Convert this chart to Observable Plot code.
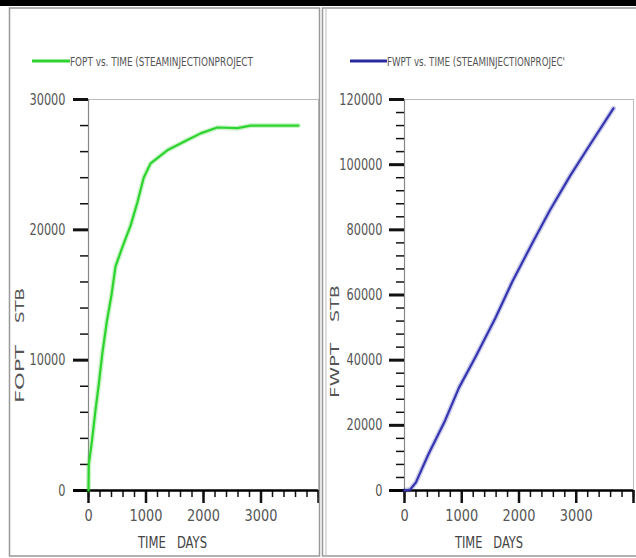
<!DOCTYPE html>
<html><head><meta charset="utf-8">
<script src="https://cdn.jsdelivr.net/npm/d3@7"></script>
<script src="https://cdn.jsdelivr.net/npm/@observablehq/plot@0.6"></script>
<style>
html,body{margin:0;padding:0;background:#fff;}
#root{position:relative;width:636px;height:558px;overflow:hidden;background:#fff;}
#root svg{position:absolute;}
</style></head>
<body><div id="root"></div>
<script>
// ---- data ----
const foptTime = [0, 5, 60, 120, 180, 240, 320, 400, 470, 600, 730, 850, 960, 1080, 1370, 1720, 1950, 2240, 2590, 2820, 3650];
const foptValue = [0, 2000, 3800, 6100, 8200, 10500, 13000, 15000, 17200, 18800, 20300, 22100, 24000, 25100, 26100, 26900, 27400, 27850, 27800, 28000, 28000];
const fwptTime = [0, 100, 200, 300, 420, 710, 950, 1240, 1590, 1880, 2250, 2540, 2890, 3180, 3650];
const fwptValue = [0, 300, 2500, 6500, 11200, 21500, 31500, 41000, 53000, 64000, 76500, 86000, 96500, 104500, 117300];
const xMajorTicks = [0, 1000, 2000, 3000, 4000];
const xTickLabels = [0, 1000, 2000, 3000];
const xMinorTicks = d3.range(0, 4001, 200);
const foptMajorTicks = [0, 10000, 20000, 30000];
const foptMinorTicks = d3.range(0, 30001, 2000);
const fwptMajorTicks = [0, 20000, 40000, 60000, 80000, 100000, 120000];
const fwptMinorTicks = d3.range(0, 120001, 4000);
const legendTexts = ["FOPT vs. TIME (STEAMINJECTIONPROJECT", "FWPT vs. TIME (STEAMINJECTIONPROJEC'"];
const yTitles = [["FOPT", "STB"], ["FWPT", "STB"]];
const xTitle = "TIME   DAYS";

const FONT = "'Liberation Sans Narrow','DejaVu Sans Condensed','Liberation Sans',sans-serif";
const root = document.getElementById("root");

function narrowLabels(svg) {
  svg.querySelectorAll("text").forEach(t => {
    const s = t.textContent;
    if (!s || !/^\d+$/.test(s)) return;
    const isY = !!t.closest('[text-anchor="end"]');
    const per = isY ? 7.2 : 8.2;
    t.setAttribute("textLength", s.length * per);
    t.setAttribute("lengthAdjust", "spacingAndGlyphs");
  });
}

function panel({time, value, yDomain, yMajor, yMinor, color, left, width, marginLeft, marginRight, labelPad}) {
  const data = time.map((t, i) => ({t, v: value[i]}));
  const svg = Plot.plot({
    width, height: 558,
    marginLeft, marginRight, marginTop: 99, marginBottom: 68,
    x: {domain: [0, 4000], label: null},
    y: {domain: yDomain, label: null},
    style: {fontFamily: FONT, fontSize: "16px", background: "transparent", overflow: "visible", color: "#222"},
    marks: [
      Plot.frame({stroke: "#bbb", strokeWidth: 1}),
      Plot.ruleX([0], {stroke: "#888", strokeWidth: 1.2}),
      Plot.axisY({ticks: yMinor, tickSize: 8, strokeWidth: 1.5, stroke: "#111", tickFormat: () => "", label: null}),
      Plot.axisY({ticks: yMajor, tickSize: 15, strokeWidth: 3, stroke: "#111", tickFormat: () => "", label: null}),
      Plot.axisY({ticks: yMajor, tickSize: 0, tickPadding: labelPad, fill: "#555", tickFormat: d => String(d), label: null}),
      Plot.axisX({ticks: xMinorTicks, tickSize: 7, strokeWidth: 1.5, stroke: "#111", tickFormat: () => "", label: null}),
      Plot.axisX({ticks: xMajorTicks, tickSize: 13, strokeWidth: 2.5, stroke: "#111", tickFormat: () => "", label: null}),
      Plot.axisX({ticks: xTickLabels, tickSize: 0, tickPadding: 19, fill: "#555", tickFormat: d => String(d), label: null}),
      Plot.ruleY([0], {x1: -260, x2: 4000, stroke: "#000", strokeWidth: 2.5}),
      Plot.line(data, {x: "t", y: "v", stroke: color, strokeWidth: 5, strokeOpacity: 0.25}),
      Plot.line(data, {x: "t", y: "v", stroke: color, strokeWidth: 2.2})
    ]
  });
  narrowLabels(svg);
  svg.style.left = left + "px";
  svg.style.top = "0px";
  root.appendChild(svg);
}

panel({time: foptTime, value: foptValue, yDomain: [0, 30000], yMajor: foptMajorTicks, yMinor: foptMinorTicks,
  color: "#2ed42e", left: 0, width: 320, marginLeft: 88, marginRight: 2, labelPad: 23});
panel({time: fwptTime, value: fwptValue, yDomain: [0, 120000], yMajor: fwptMajorTicks, yMinor: fwptMinorTicks,
  color: "#3535b0", left: 320, width: 316, marginLeft: 84, marginRight: 3, labelPad: 22});

// ---- decorations overlay ----
const NS = "http://www.w3.org/2000/svg";
const ov = document.createElementNS(NS, "svg");
ov.setAttribute("width", 636); ov.setAttribute("height", 558);
ov.style.left = "0px"; ov.style.top = "0px"; ov.style.pointerEvents = "none";
function el(name, attrs, text) {
  const e = document.createElementNS(NS, name);
  for (const k in attrs) e.setAttribute(k, attrs[k]);
  if (text != null) e.textContent = text;
  ov.appendChild(e);
  return e;
}
el("rect", {x: 0, y: 0, width: 636, height: 6, fill: "#000"});
el("rect", {x: 9.5, y: 8, width: 310, height: 548, fill: "none", stroke: "#999", "stroke-width": 1.5});
el("rect", {x: 322.5, y: 8, width: 320, height: 548, fill: "none", stroke: "#999", "stroke-width": 1.5});
el("line", {x1: 326, y1: 8, x2: 326, y2: 556, stroke: "#bbb", "stroke-width": 1});

const legends = [
  {x1: 32, x2: 70, color: "#2ed42e", text: legendTexts[0], len: 183},
  {x1: 350, x2: 387, color: "#2a2aa0", text: legendTexts[1], len: 178}
];
legends.forEach(l => {
  el("line", {x1: l.x1, y1: 61, x2: l.x2, y2: 61, stroke: l.color, "stroke-width": 3});
  el("text", {x: l.x2, y: 66, "font-family": FONT, "font-size": 13, fill: "#555",
    textLength: l.len, lengthAdjust: "spacingAndGlyphs"}, l.text);
});
[{x: 138, len: 69}, {x: 455, len: 68}].forEach(t => {
  el("text", {x: t.x, y: 548, "font-family": FONT, "font-size": 16, fill: "#444", style: "white-space:pre",
    textLength: t.len, lengthAdjust: "spacingAndGlyphs"}, xTitle);
});
[{x: 24, a: [403, 58], b: [323, 35], i: 0}, {x: 339, a: [398, 55], b: [322, 37], i: 1}].forEach(t => {
  el("text", {transform: `translate(${t.x},${t.a[0]}) rotate(-90)`, "font-family": FONT, "font-size": 13, fill: "#555",
    textLength: t.a[1], lengthAdjust: "spacingAndGlyphs"}, yTitles[t.i][0]);
  el("text", {transform: `translate(${t.x},${t.b[0]}) rotate(-90)`, "font-family": FONT, "font-size": 13, fill: "#555",
    textLength: t.b[1], lengthAdjust: "spacingAndGlyphs"}, yTitles[t.i][1]);
});
root.appendChild(ov);
</script></body></html>
